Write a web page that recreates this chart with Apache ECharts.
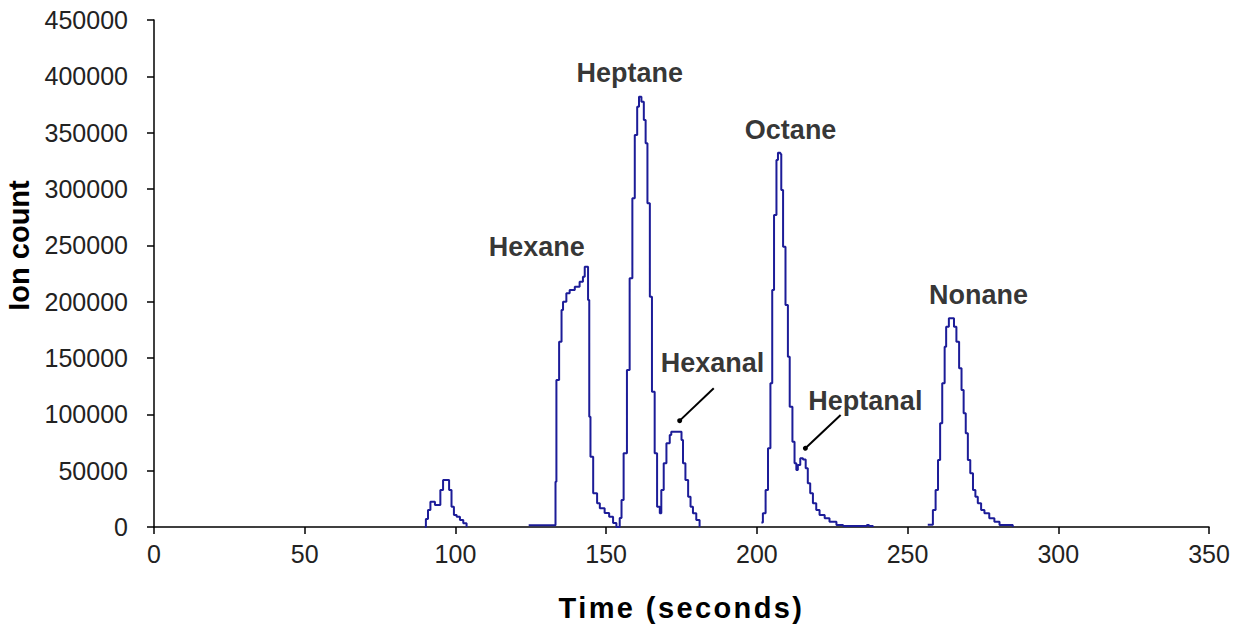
<!DOCTYPE html>
<html>
<head>
<meta charset="utf-8">
<script src="https://cdn.jsdelivr.net/npm/echarts@6/dist/echarts.min.js"></script>
<style>
html,body{margin:0;padding:0;background:#fff;}
#chart{width:1244px;height:628px;}
</style>
</head>
<body>
<div id="chart"></div>
<script>
// ---- Data (time in seconds, ion count) ----
var peakA_t = [89.9, 90.2, 90.9, 91.7, 93.2, 95.0, 95.9, 97.9, 98.7, 99.5, 100.4, 101.5, 102.6, 103.7];
var peakA_v = [0, 7000, 15000, 22500, 19500, 32800, 41700, 32800, 18000, 10700, 9100, 6200, 3300, 0];

var peakB_t = [124.3, 133.2, 133.5, 134.4, 135.2, 135.7, 136.8, 137.9, 139.6, 141.2, 142.3, 142.9, 144.0, 144.4, 144.8, 145.7, 147.0, 147.9, 149.5, 151.0, 152.3, 153.4,
               154.5, 155.1, 155.8, 156.9, 157.8, 158.7, 159.5, 160.3, 160.9, 161.7, 162.5, 163.1, 163.7, 164.5, 165.2, 166.1, 166.9, 167.8,
               168.3, 169.1, 170.0, 171.1, 171.6, 175.0, 175.5, 176.3, 177.2, 178.0, 178.8, 179.9, 181.0];
var peakB_v = [1500, 40200, 130500, 164500, 192600, 200000, 207400, 210400, 213300, 217700, 222200, 231000, 201500, 97900, 62400, 29900, 21000, 16600, 12400, 9100, 3500, 0,
               8000, 24000, 65400, 139400, 220700, 291700, 348000, 373000, 381900, 377500, 361300, 340600, 287300, 204400, 120100, 65400, 18000, 12200,
               32800, 56500, 74300, 81700, 84600, 77200, 56500, 41700, 26900, 18000, 12200, 6200, 0];

var peakC_t = [201.5, 202.0, 202.9, 203.7, 204.5, 205.1, 205.7, 206.5, 207.0, 207.8, 208.1, 208.7, 209.5, 210.3, 210.9, 211.8, 212.5, 213.1, 213.6, 214.4, 215.3, 216.2, 216.9, 217.7, 218.6, 219.7, 220.8, 222.5, 224.1, 226.4, 228.6, 236.5, 237.2, 238.5];
var peakC_v = [4000, 12200, 32800, 69800, 127500, 210400, 276900, 325700, 332200, 331000, 299100, 248800, 197000, 151200, 106800, 75700, 56500, 50600, 55000, 61000, 60000, 52100, 38800, 29900, 21000, 15100, 10600, 7700, 4700, 1800, 900, 1800, 900, 0];

var peakD_t = [256.7, 258.4, 259.3, 260.1, 260.8, 261.5, 262.3, 262.8, 263.7, 265.4, 266.2, 267.1, 267.9, 268.6, 269.3, 270.0, 270.8, 271.7, 272.5, 273.3, 274.4, 275.5, 277.1, 278.8, 280.5, 284.9];
var peakD_v = [2000, 15100, 32800, 59500, 92000, 127500, 160000, 177800, 185200, 177800, 164500, 140900, 121600, 100900, 83200, 59500, 47700, 32800, 26900, 21000, 15100, 12200, 7700, 4700, 1800, 0];

// Peak name labels (data coordinates)
var labelNames  = ['Hexane', 'Heptane', 'Hexanal', 'Octane', 'Heptanal', 'Nonane'];
var labelTimes  = [127.0, 157.8, 185.3, 211.2, 236.0, 273.5];
var labelValues = [248500, 403000, 145600, 352400, 111800, 205900];

// Pointer lines for Hexanal and Heptanal
var pointerFromT = [185.7, 227.8];
var pointerFromV = [123100, 99400];
var pointerToT   = [174.4, 216.1];
var pointerToV   = [94400, 69900];

// X / Y axis settings
var xMax = 350, xStep = 50;
var yMax = 450000, yStep = 50000;
var xTitle = 'Time (seconds)';
var yTitle = 'Ion count';

function pairs(ts, vs){ return ts.map(function(t,i){ return [t, vs[i]]; }); }

var lineColor = '#1c1c98';
function peakSeries(ts, vs){
  return {
    type: 'line', step: 'end', showSymbol: false, symbol: 'none',
    data: pairs(ts, vs),
    lineStyle: {color: lineColor, width: 2},
    z: 3
  };
}

var chart = echarts.init(document.getElementById('chart'), null, {renderer: 'svg'});
var txt = '#222';
var font = 'Liberation Sans, Arial, sans-serif';
var option = {
  animation: false,
  backgroundColor: '#fff',
  grid: {left: 154, right: 35, top: 20, bottom: 101, containLabel: false, outerBoundsMode: 'none'},
  xAxis: {
    type: 'value', min: 0, max: xMax, interval: xStep,
    axisLine: {lineStyle: {color: '#000', width: 1.5}},
    axisTick: {show: true, length: 7, lineStyle: {color: '#000', width: 1.5}},
    axisLabel: {color: txt, fontSize: 25, fontFamily: font, margin: 14, formatter: function(v){ return String(v); }},
    splitLine: {show: false},
    name: xTitle, nameLocation: 'middle', nameGap: 66,
    nameTextStyle: {color: '#000', fontSize: 29, fontWeight: 'bold', fontFamily: font}
  },
  yAxis: {
    type: 'value', min: 0, max: yMax, interval: yStep,
    axisLine: {show: true, lineStyle: {color: '#000', width: 1.5}},
    axisTick: {show: true, length: 7, lineStyle: {color: '#000', width: 1.5}},
    axisLabel: {color: txt, fontSize: 25, fontFamily: font, margin: 26, formatter: function(v){ return String(v); }},
    splitLine: {show: false},
    name: yTitle, nameLocation: 'middle', nameGap: 114, nameRotate: 90,
    nameTextStyle: {color: '#000', fontSize: 29, fontWeight: 'bold', fontFamily: font, padding: [0, 0, 0, 56]}
  },
  series: [
    peakSeries(peakA_t, peakA_v),
    peakSeries(peakB_t, peakB_v),
    peakSeries(peakC_t, peakC_v),
    peakSeries(peakD_t, peakD_v),
    {
      type: 'lines', coordinateSystem: 'cartesian2d', polyline: false,
      symbol: ['none', 'circle'], symbolSize: 5,
      lineStyle: {color: '#000', width: 2, opacity: 1},
      data: pointerFromT.map(function(t, i){
        return {coords: [[t, pointerFromV[i]], [pointerToT[i], pointerToV[i]]]};
      }),
      z: 4
    },
    {
      type: 'scatter', symbolSize: 0, silent: true,
      data: labelNames.map(function(n, i){ return {name: n, value: [labelTimes[i], labelValues[i]]}; }),
      label: {
        show: true, position: 'inside', formatter: '{b}',
        color: '#000', fontSize: 27, fontWeight: 'bold', fontFamily: font
      },
      z: 5
    }
  ]
};
chart.setOption(option);

// The x-axis title of the reference is letter-spaced
function spaceTitle(){
  var texts = document.querySelectorAll('#chart svg text');
  for (var i = 0; i < texts.length; i++) {
    if (texts[i].textContent === xTitle) {
      texts[i].style.letterSpacing = '2.4px';
    }
  }
}
spaceTitle();
chart.on('finished', spaceTitle);
</script>
</body>
</html>
